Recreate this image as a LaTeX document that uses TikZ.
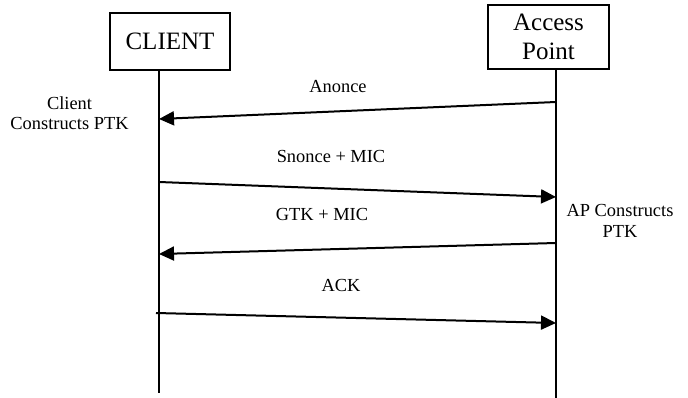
\documentclass[tikz,border=0pt]{standalone}
\usepackage{fontspec}
\setmainfont{Liberation Serif}
\usetikzlibrary{arrows.meta}
\begin{document}
\begin{tikzpicture}[x=1pt,y=-1pt,
  actor/.style={draw,line width=1.4pt,inner sep=0pt,align=center,font=\fontsize{25}{29.5}\selectfont},
  lifeline/.style={line width=2pt},
  msg/.style={line width=2pt,-{Triangle[length=15pt,width=14pt]}},
  lbl/.style={inner sep=0pt,align=center,font=\fontsize{18.4}{20.5}\selectfont}]
\useasboundingbox (0,0) rectangle (688,398);
% actors
\node[actor,minimum width=120pt,minimum height=57pt] (client) at (170,41.5) {CLIENT};
\node[actor,minimum width=121pt,minimum height=64pt] (ap) at (548.5,37) {Access\\Point};
% lifelines
\coordinate (ctop) at (159,70);
\coordinate (cbot) at (159,393);
\coordinate (atop) at (556,69);
\coordinate (abot) at (556,398);
\draw[lifeline] (ctop) -- (cbot);
\draw[lifeline] (atop) -- (abot);
% message end points
\coordinate (a1) at (556,102);
\coordinate (c1) at (159,119);
\coordinate (c2) at (159,182);
\coordinate (a2) at (556,197);
\coordinate (a3) at (556,243);
\coordinate (c3) at (159,254);
\coordinate (c4) at (156,313);
\coordinate (a4) at (556,323);
\draw[msg] (a1) -- (c1);
\draw[msg] (c2) -- (a2);
\draw[msg] (a3) -- (c3);
\draw[msg] (c4) -- (a4);
% labels
\node[lbl] (l1) at (338,87) {Anonce};
\node[lbl] (l2) at (331,156) {Snonce + MIC};
\node[lbl] (l3) at (322,214) {GTK + MIC};
\node[lbl] (l4) at (341,285) {ACK};
\node[lbl] (cc) at (69.5,113) {Client\\Constructs PTK};
\node[lbl] (apc) at (620,221) {AP Constructs\\PTK};
\end{tikzpicture}
\end{document}
